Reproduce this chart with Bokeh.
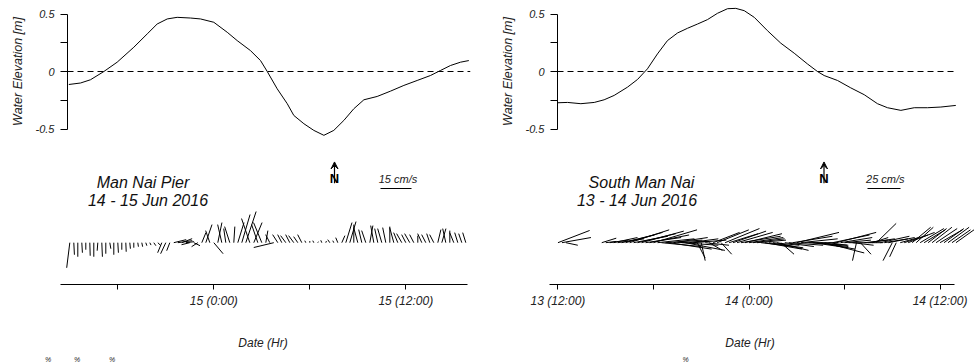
import numpy as np
from bokeh.plotting import figure
from bokeh.layouts import row, column
from bokeh.models import (Range1d, FixedTicker, CustomJSTickFormatter, Span, Label,
                          Arrow, VeeHead, ColumnDataSource)
from bokeh.embed import file_html
from bokeh.resources import INLINE

nan = float("nan")

# ---------------- data ----------------
# Man Nai Pier (hours relative to 15 Jun 2016 00:00)
left_tide_hours = [-9.06, -8.33, -7.71, -6.87, -6.04, -5.0, -4.16, -3.54, -2.91, -2.29,
                   -1.46, -0.83, 0.0, 0.84, 1.46, 2.29, 2.92, 3.34, 3.96, 4.59,
                   5.0, 5.63, 6.25, 6.88, 7.5, 8.13, 8.75, 9.38, 10.21, 11.04,
                   11.88, 12.71, 13.54, 14.17, 14.79, 15.42, 15.94]
left_tide_elev = [-0.113, -0.10, -0.072, 0.0, 0.081, 0.211, 0.327, 0.413, 0.457, 0.471,
                  0.465, 0.457, 0.428, 0.341, 0.269, 0.182, 0.095, 0.0, -0.150, -0.280,
                  -0.382, -0.454, -0.512, -0.555, -0.512, -0.425, -0.324, -0.246, -0.217, -0.171,
                  -0.121, -0.078, -0.035, 0.009, 0.052, 0.081, 0.095]
left_vec_start = -9.0      # first current sample, hours
left_vec_step = 0.25       # sampling interval, hours
left_u = [-1.5, 0.3, 0, 0.3, 0, 0.2, 0, -0.3, 0.3, 0,
          0.5, 0, 0.3, 0, 0.2, 0.3, 0, 0.3, 0.4, 0.5,
          0.6, 1.0, 1.5, -2, -2.5, -1.5, 6, 7, 5, 4,
          -4, 3, -3, 2, 3, -2, 4.5, 2, -2, -1,
          -2.5, 0.5, 3, 4, 5, -4, 4, -3, -4, 1,
          -2, -9.7, -2.5, -2, -2.5, -2, -2.5, -2, -2, -0.5,
          0, -0.5, 0.3, -0.5, 0.3, -1, -0.5, -1, 1.5, 3,
          3, 0, -2, -1.5, -2, 1.5, -1.5, -1.5, -2, -1.5,
          0, -2, -2, -2.5, -2, -2.5, -2, 0, -2, -2,
          -1.5, -2, 1.5, 2, -1.5, 0, -2, -1.5, -1.5, -1.5]
left_v = [-12.5, -6, -7, -5, -3.5, -6.5, -7, -4, -7, -5.5,
          -3, -6, -5, -3.5, -4.5, -3, -2.5, -2, -2, -1.5,
          -1.2, -1.5, -1.5, -5, -5.5, -4, 1.5, 1, 2, 0.5,
          -1, -1.5, -2, 5, 9, 6, -5.5, 10, 9, 7,
          8, 8, 10, 14, 15.5, 12, 10, 9, 10, 6,
          4, -2.4, 4, 4, 3.5, 4, 3.5, 3, 4, 1,
          0.8, 1, 0.5, 1.2, 0.8, 1.5, 1, 2.5, 3.5, 10,
          10.5, 9, 7.5, 6.5, 6, 8.5, 8.5, 7, 7, 7.5,
          8, 7.5, 5, 4.5, 4, 4.5, 4, 3.5, 4.5, 4,
          4.5, 4, 6.5, 7, 7, 6, 5, 5, 4.5, 5]

# South Man Nai (hours relative to 14 Jun 2016 00:00)
right_tide_hours = [-12.03, -11.40, -10.56, -9.72, -9.10, -8.47, -7.63, -7.00, -6.38, -5.75,
                    -5.12, -4.49, -3.86, -3.23, -2.61, -1.98, -1.35, -0.83, -0.30, 0.33,
                    1.16, 2.00, 2.84, 3.67, 4.30, 4.72, 5.56, 6.39, 7.24, 8.07,
                    8.70, 9.54, 10.38, 11.21, 12.05, 12.99]
right_tide_elev = [-0.272, -0.269, -0.280, -0.269, -0.246, -0.208, -0.136, -0.069, 0.023, 0.153,
                   0.269, 0.335, 0.376, 0.413, 0.451, 0.506, 0.546, 0.549, 0.529, 0.471,
                   0.355, 0.246, 0.159, 0.066, 0.0, -0.035, -0.078, -0.142, -0.202, -0.280,
                   -0.315, -0.338, -0.315, -0.315, -0.309, -0.295]
right_vec_start = -12.0
right_vec_step = 0.25
right_u = [24, 22, 9, nan, nan, nan, nan, nan, nan, nan, nan,
           11, 8, 14, 18, 20,
           25, 28, 30, 26, 29, 32, 27, 30, 33, 28,
           30, 28, 32, 26, 24, 28, 30, 22, 25, 6,
           3, 18, 10, 20, 24, 8, 26, 22, 25, 27,
           30, 28, 26, 24, 22, 25, 28, 26, 20, 24,
           10, 22, 26, 30, 32, 28, 25, 30, 27, 24,
           26, 30, 14, 28, 30, 24, 20, 26, 16, -3,
           8, 18, 20, 12, 15, 22, 18, 20, -7, -5,
           14, 18, 20, 14, 13, 18, 16, 14, 15, 16, 17, 15, 16, 14, 15]
right_v = [9.5, 4, -2, nan, nan, nan, nan, nan, nan, nan, nan,
           3.5, 1, 2, 4, 3,
           6, 8, 10, 5, 7, 9, 4, 6, 10, 3,
           -3, 2, -5, 4, 1, -2, -6, 3, 2, -12,
           -14, -2, -6, 8, 10, -9, 11, 7, 9, 8,
           5, 7, 4, 3, 2, -3, -5, -4, -2, -6,
           -9, -3, -2, 5, 8, 3, 0, -2, -4, -3,
           -5, -8, -2, 6, 8, 4, 2, 0, -2, -14,
           -9, 2, 3, 4, 15, 5, 3, 4, -14, -11,
           4, 6, 8, 12, 12, 11, 10, 11, 12, 11, 10, 11, 12, 10, 11]

elev_ticks = [-0.5, 0, 0.5]
elev_tick_labels = ["-0.5", "0", "0.5"]
elev_minor_ticks = [-0.25, 0.25]

left_xticks = [0, 12]
left_xtick_labels = ["15 (0:00)", "15 (12:00)"]
left_minor_xticks = [-6, 6]
right_xticks = [-12, 0, 12]
right_xtick_labels = ["13 (12:00)", "14 (0:00)", "14 (12:00)"]
right_minor_xticks = [-6, 6]

left_titles = ["Man Nai Pier", "14 - 15 Jun 2016"]
right_titles = ["South Man Nai", "13 - 14 Jun 2016"]
left_scale_speed = 15    # cm/s
right_scale_speed = 25   # cm/s

# ---------------- layout constants ----------------
FONT = "Liberation Sans"
PANEL_W = 487
TOP_H = 142
BOT_H = 210
STRIP_H = 10
BOT_FRAME_H = 146
AXIS_Y_ABS = 288          # page y of the time axis
ELEV_PX_PER_M = 115.0


def tick_fmt(tvals, tlabels):
    return CustomJSTickFormatter(args=dict(tvals=list(tvals), tlabels=list(tlabels)), code="""
        for (let i = 0; i < tvals.length; i++) {
            if (Math.abs(tvals[i] - tick) < 1e-6) { return tlabels[i]; }
        }
        return "";
    """)


def style_fig(p):
    p.outline_line_color = None
    p.grid.visible = False
    p.background_fill_color = "white"
    p.border_fill_color = "white"


def tide_figure(hours, elev, zero_px, pxh, frame_l, frame_r):
    x0 = (frame_l - zero_px) / pxh
    x1 = (frame_r - zero_px) / pxh
    half = (TOP_H / 2) / ELEV_PX_PER_M
    p = figure(width=PANEL_W, height=TOP_H, x_range=Range1d(x0, x1), y_range=Range1d(-half, half),
               output_backend="svg", toolbar_location=None, x_axis_location=None,
               min_border_left=frame_l, min_border_right=PANEL_W - frame_r,
               min_border_top=0, min_border_bottom=0, frame_align=False)
    style_fig(p)
    p.add_layout(Span(location=0, dimension="width", line_color="black",
                      line_width=1, line_dash="6 4"))
    p.line(hours, elev, line_color="black", line_width=1)
    ax = p.yaxis[0]
    ax.bounds = (min(elev_ticks), max(elev_ticks))
    ax.ticker = FixedTicker(ticks=elev_ticks, minor_ticks=elev_minor_ticks)
    ax.formatter = tick_fmt(elev_ticks, elev_tick_labels)
    ax.axis_line_color = "black"
    ax.major_tick_line_color = "black"
    ax.minor_tick_line_color = "black"
    ax.major_tick_out = 7
    ax.major_tick_in = 0
    ax.minor_tick_out = 7
    ax.minor_tick_in = 0
    ax.major_label_standoff = 6
    ax.major_label_text_font = FONT
    ax.major_label_text_font_style = "italic"
    ax.major_label_text_font_size = "11px"
    ax.major_label_text_color = "#222222"
    ax.axis_label = "Water Elevation [m]"
    ax.axis_label_text_font = FONT
    ax.axis_label_text_font_style = "italic"
    ax.axis_label_text_font_size = "12.5px"
    ax.axis_label_text_color = "#222222"
    ax.axis_label_standoff = 8
    return p


def stick_figure(u, v, t0, dt, zero_px, pxh, bar_px, speed, ticks, labels, minor, bounds_px,
                 titles, title_px, north_px, scale_px):
    frame_l = 38
    x0 = (frame_l - zero_px) / pxh
    x1 = (PANEL_W - zero_px) / pxh
    p = figure(width=PANEL_W, height=BOT_H, x_range=Range1d(x0, x1), y_range=Range1d(0, BOT_FRAME_H),
               output_backend="svg", toolbar_location=None, y_axis_location=None,
               min_border_left=frame_l, min_border_right=0,
               min_border_top=0, min_border_bottom=BOT_H - BOT_FRAME_H, frame_align=False)
    style_fig(p)

    def hx(px):
        return (px - zero_px) / pxh

    def vy(py_abs):
        return AXIS_Y_ABS - py_abs

    k = bar_px / speed            # px per cm/s
    u = np.array(u, dtype=float)
    v = np.array(v, dtype=float)
    t = t0 + dt * np.arange(len(u))
    base = vy(245)
    src = ColumnDataSource(dict(x0=t, y0=np.full(len(t), base),
                                x1=t + u * k / pxh, y1=base + v * k))
    p.segment(x0="x0", y0="y0", x1="x1", y1="y1", source=src, line_color="black", line_width=1)

    # velocity scale bar
    sb_x0 = hx(scale_px[0])
    p.segment(x0=[sb_x0], y0=[vy(189.3)], x1=[sb_x0 + speed * k / pxh], y1=[vy(189.3)],
              line_color="black", line_width=1)
    p.add_layout(Label(x=hx(scale_px[1]), y=vy(179.3), text=f"{speed} cm/s", text_font=FONT,
                       text_font_style="italic", text_font_size="11px", text_color="#222222",
                       text_align="center", text_baseline="middle"))

    # titles
    for txt, (tx, ty) in zip(titles, title_px):
        p.add_layout(Label(x=hx(tx), y=vy(ty), text=txt, text_font=FONT, text_font_style="italic",
                           text_font_size="16px", text_color="#111111",
                           text_align="center", text_baseline="middle"))

    # north arrow
    p.add_layout(Label(x=hx(north_px), y=vy(179.5), text="N", text_font=FONT,
                       text_font_size="13px", text_font_style="bold", text_color="black",
                       text_align="center", text_baseline="middle"))
    p.add_layout(Arrow(end=VeeHead(size=7, line_color="black", fill_color="black", line_width=1),
                       x_start=hx(north_px), y_start=vy(184), x_end=hx(north_px), y_end=vy(162),
                       line_color="black", line_width=1.2))

    ax = p.xaxis[0]
    ax.bounds = (hx(bounds_px[0]), hx(bounds_px[1]))
    ax.ticker = FixedTicker(ticks=ticks, minor_ticks=minor)
    ax.formatter = tick_fmt(ticks, labels)
    ax.axis_line_color = "black"
    ax.major_tick_line_color = "black"
    ax.minor_tick_line_color = "black"
    ax.major_tick_out = 5
    ax.major_tick_in = 0
    ax.minor_tick_out = 5
    ax.minor_tick_in = 0
    ax.major_label_standoff = 4
    ax.major_label_text_font = FONT
    ax.major_label_text_font_style = "italic"
    ax.major_label_text_font_size = "12px"
    ax.major_label_text_color = "#222222"
    ax.axis_label = "Date (Hr)"
    ax.axis_label_text_font = FONT
    ax.axis_label_text_font_style = "italic"
    ax.axis_label_text_font_size = "12px"
    ax.axis_label_text_color = "#222222"
    ax.axis_label_standoff = 25
    return p


def strip_figure(marks_px):
    p = figure(width=PANEL_W, height=STRIP_H, x_range=Range1d(0, PANEL_W), y_range=Range1d(0, STRIP_H),
               output_backend="svg", toolbar_location=None, x_axis_location=None,
               y_axis_location=None, min_border=0, frame_align=False)
    style_fig(p)
    for px in marks_px:
        p.add_layout(Label(x=px, y=STRIP_H / 2, text="%", text_font=FONT, text_font_style="italic",
                           text_font_size="7px", text_color="#222222",
                           text_align="center", text_baseline="middle"))
    return p


L_ZERO, L_PXH = 213.3, 16.0
R_ZERO, R_PXH = 261.5, 15.92

tl = tide_figure(left_tide_hours, left_tide_elev, L_ZERO, L_PXH, 67, 470)
tr = tide_figure(right_tide_hours, right_tide_elev, R_ZERO, R_PXH, 70, 470)

bl = stick_figure(left_u, left_v, left_vec_start, left_vec_step, L_ZERO, L_PXH, 31.0, left_scale_speed,
                  left_xticks, left_xtick_labels, left_minor_xticks, (60, 467),
                  left_titles, [(142.5, 182.7), (147.5, 201.7)], 334, (380, 397.5))
br = stick_figure(right_u, right_v, right_vec_start, right_vec_step, R_ZERO, R_PXH, 33.0, right_scale_speed,
                  right_xticks, right_xtick_labels, right_minor_xticks, (62, 467),
                  right_titles, [(154, 182.7), (149.5, 201.7)], 336.5, (380, 397.8))

sl = strip_figure([47.7, 76.7, 111.7])
sr = strip_figure([198])

layout = row(column(tl, bl, sl), column(tr, br, sr))
open("out.html", "w").write(file_html(layout, INLINE))
